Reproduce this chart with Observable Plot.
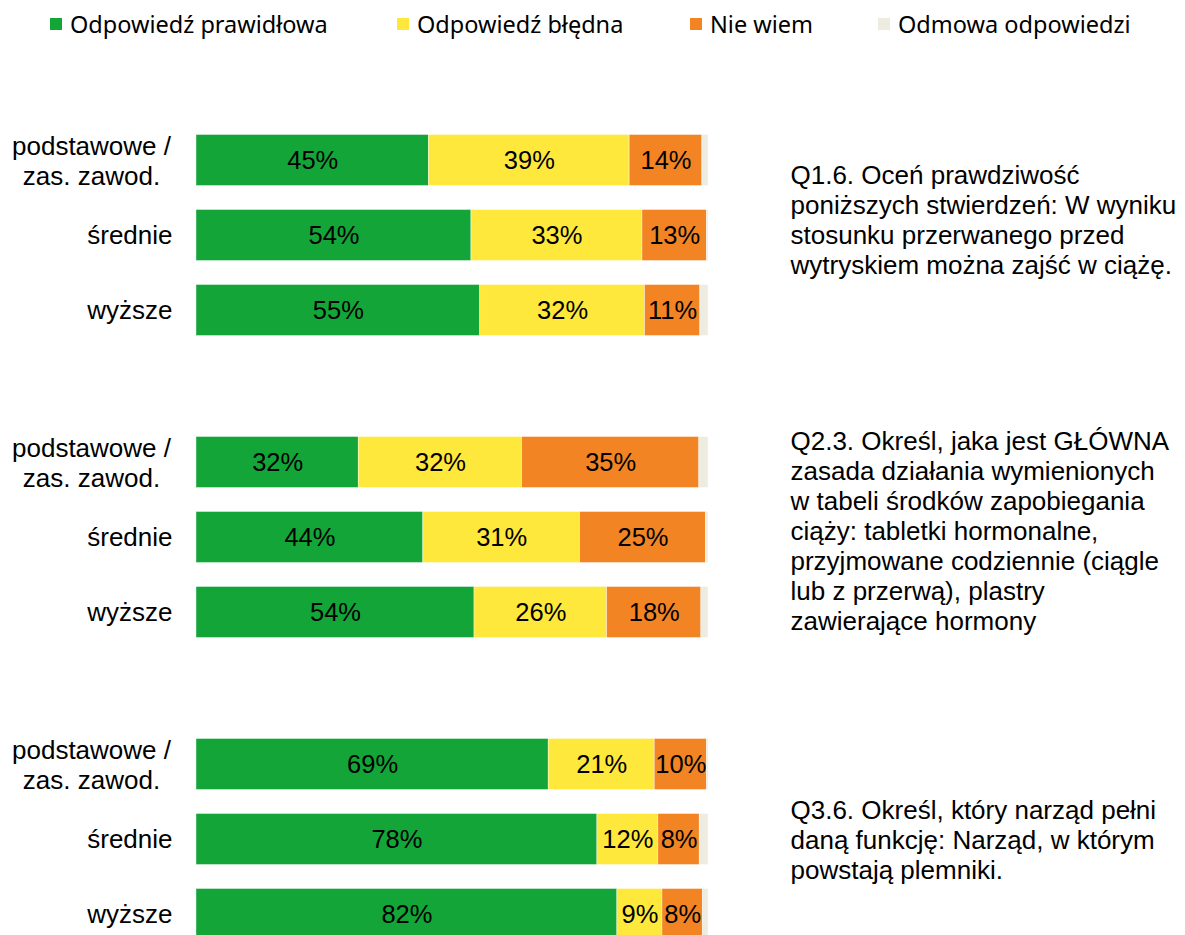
<!DOCTYPE html>
<html>
<head>
<meta charset="utf-8">
<script src="https://cdn.jsdelivr.net/npm/d3@7"></script>
<script src="https://cdn.jsdelivr.net/npm/@observablehq/plot@0.6"></script>
<style>
  html, body { margin: 0; padding: 0; background: #fff; overflow: hidden; width: 1185px; height: 935px; }
  #legend { position: relative; height: 50px; font-family: "Noto Sans", sans-serif; font-size: 23.5px; color: #000; }
  .item { position: absolute; top: 8px; display: flex; align-items: center; white-space: nowrap; }
  .sw { width: 12px; height: 12px; margin-right: 8px; }
  #chart svg { display: block; }
</style>
</head>
<body>
<div id="legend"></div>
<div id="chart"></div>
<script>
// ---- data ----
const categories = ["Odpowiedź prawidłowa", "Odpowiedź błędna", "Nie wiem", "Odmowa odpowiedzi"];
const colors = ["#14a538", "#ffe83c", "#f38424", "#eeebe1"];
const questions = [
  "Q1.6. Oceń prawdziwość\nponiższych stwierdzeń: W wyniku\nstosunku przerwanego przed\nwytryskiem można zajść w ciążę.",
  "Q2.3. Określ, jaka jest GŁÓWNA\nzasada działania wymienionych\nw tabeli środków zapobiegania\nciąży: tabletki hormonalne,\nprzyjmowane codziennie (ciągle\nlub z przerwą), plastry\nzawierające hormony",
  "Q3.6. Określ, który narząd pełni\ndaną funkcję: Narząd, w którym\npowstają plemniki."
];
const education = ["podstawowe /\nzas. zawod.", "średnie", "wyższe"];
// values per question, per education level: [prawidłowa, błędna, nie wiem, odmowa]
const q1Values = [[45.4, 39.2, 14.2, 1.2], [53.7, 33.4, 12.6, 0.3], [55.4, 32.2, 10.8, 1.6]];
const q2Values = [[31.7, 31.9, 34.6, 1.8], [44.3, 30.6, 24.6, 0.5], [54.3, 25.9, 18.4, 1.4]];
const q3Values = [[68.8, 20.7, 10.2, 0.3], [78.3, 11.9, 8.1, 1.7], [82.2, 8.8, 7.9, 1.1]];
const questionShift = [-16, -7, 0];

// ---- build table ----
const allValues = [q1Values, q2Values, q3Values];
const rows = [];
questions.forEach((q, qi) => {
  education.forEach((e, ei) => {
    categories.forEach((c, ci) => {
      rows.push({q, edu: e, cat: c, value: allValues[qi][ei][ci]});
    });
  });
});
const labelRows = rows.filter(d => d.cat !== categories[3]);
const eduRows = [];
questions.forEach(q => education.forEach(e => eduRows.push({q, edu: e})));

// ---- legend ----
const legendLeft = [50, 397, 690, 878];
const legend = document.getElementById("legend");
categories.forEach((c, i) => {
  const it = document.createElement("div");
  it.className = "item";
  it.style.left = legendLeft[i] + "px";
  const sw = document.createElement("span");
  sw.className = "sw";
  sw.style.background = colors[i];
  const tx = document.createElement("span");
  tx.textContent = c;
  it.append(sw, tx);
  legend.append(it);
});

// ---- chart ----
const font = "'Liberation Sans', Arial, sans-serif";
const qMarks = questions.map((q, i) => Plot.text([{q, edu: education[1]}], {
  fy: "q", y: "edu", text: "q", frameAnchor: "right", textAnchor: "start",
  dx: 82, dy: questionShift[i], lineHeight: 1.15, fontSize: 26, fill: "#000"
}));

const chart = Plot.plot({
  width: 1185,
  height: 954.5,
  marginLeft: 196,
  marginRight: 477,
  marginTop: 58.5,
  marginBottom: 40,
  style: {fontFamily: font, background: "white"},
  x: {domain: [0, 100], axis: null},
  y: {domain: education, padding: 0.325, axis: null},
  fy: {domain: questions, paddingInner: 51.5 / 302.5, paddingOuter: 0, axis: null},
  color: {domain: categories, range: colors},
  marks: [
    Plot.barX(rows, Plot.stackX({
      x: "value", y: "edu", fy: "q", fill: "cat", order: categories,
      stroke: "#fff", strokeWidth: 0.8, strokeOpacity: 0.5
    })),
    Plot.text(labelRows, Plot.stackX({
      x: "value", y: "edu", fy: "q", z: "cat", order: categories,
      text: d => Math.round(d.value) + "%", fontSize: 25.5, fill: "#000"
    })),
    Plot.text(eduRows.filter(d => d.edu.includes("\n")), {
      fy: "q", y: "edu", text: "edu", frameAnchor: "left", textAnchor: "middle",
      dx: -105, lineHeight: 1.15, fontSize: 26, fill: "#000"
    }),
    Plot.text(eduRows.filter(d => !d.edu.includes("\n")), {
      fy: "q", y: "edu", text: "edu", frameAnchor: "left", textAnchor: "end",
      dx: -24, fontSize: 26, fill: "#000"
    }),
    ...qMarks
  ]
});
document.getElementById("chart").append(chart);
</script>
</body>
</html>
